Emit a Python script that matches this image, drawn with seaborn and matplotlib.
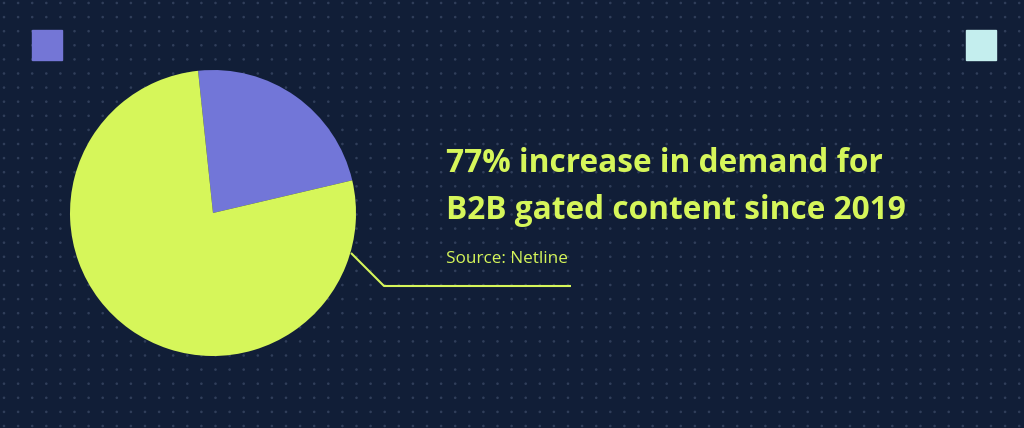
import matplotlib
matplotlib.use("Agg")
import matplotlib.pyplot as plt
import seaborn as sns
import numpy as np
import pandas as pd

# ---- data ----
labels = ["Other", "Increase in demand"]
shares = [23, 77]
slice_colors = ["#7276d8", "#d6f65a"]
title_lines = ["77% increase in demand for", "B2B gated content since 2019"]
source_text = "Source: Netline"

BG = "#111e37"
LIME = "#d6f65a"

sns.set_theme(style="white")
plt.rcParams['font.family'] = ['Open Sans', 'DejaVu Sans']

W, H = 1024, 428
fig = plt.figure(figsize=(W / 100, H / 100), dpi=100, facecolor=BG)

# background axes in pixel coordinates
bg = fig.add_axes([0, 0, 1, 1])
bg.set_facecolor(BG)

gx, gy = np.meshgrid(np.arange(4, W, 14.1), np.arange(3, H, 14.1))
grid = pd.DataFrame({"x": gx.ravel(), "y": gy.ravel()})
sns.scatterplot(data=grid, x="x", y="y", ax=bg, s=3.5, color="#303e5a",
                edgecolor="none", legend=False)
bg.set_xlim(0, W)
bg.set_ylim(H, 0)
bg.axis("off")

# corner squares
bg.add_patch(plt.Rectangle((32, 30), 30, 30, color="#7476d6", zorder=3))
bg.add_patch(plt.Rectangle((966, 30), 30, 30, color="#c4eeee", zorder=3))

# leader line
bg.plot([351, 384, 571], [253, 286, 286], color=LIME, lw=1.5, zorder=3,
        solid_capstyle="butt")

# text
bg.text(446, 172, title_lines[0], color=LIME, fontsize=22.8, fontweight="bold",
        va="baseline", ha="left")
bg.text(446, 219, title_lines[1], color=LIME, fontsize=22.8, fontweight="bold",
        va="baseline", ha="left")
bg.text(446, 263, source_text, color=LIME, fontsize=12.3,
        va="baseline", ha="left")

# pie
cx, cy, r = 213, 213, 143
pax = fig.add_axes([(cx - r) / W, (H - cy - r) / H, 2 * r / W, 2 * r / H])
pax.pie(shares, colors=slice_colors, startangle=96, counterclock=False,
        radius=1, wedgeprops=dict(linewidth=0))
pax.set_xlim(-1, 1)
pax.set_ylim(-1, 1)
pax.set_aspect("auto")
pax.axis("off")

fig.savefig("out.png", dpi=100, facecolor=BG)
